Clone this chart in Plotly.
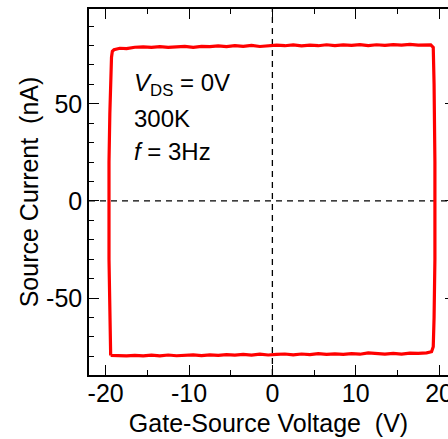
import plotly.graph_objects as go

# Loop trace (V, nA): left edge up, top edge right, right edge down, bottom edge left
left_v = [-19.4, -19.5, -19.6, -19.6, -19.6, -19.5, -19.4, -19.3, -19.2]
left_i = [-79.5, -60.0, -30.0, 0.0, 20.0, 45.0, 65.0, 74.0, 77.0]

top_v = [-19.0, -18.3, -17.5, -16.5, -15.5, -14.5, -13.5, -12.5, -11.5, -10.5, -9.5, -8.5,
         -7.5, -6.5, -5.5, -4.5, -3.5, -2.5, -1.5, -0.5, 0.5, 1.5, 2.5, 3.5, 4.5, 5.5,
         6.5, 7.5, 8.5, 9.5, 10.5, 11.5, 12.5, 13.5, 14.5, 15.5, 16.5, 17.5, 18.5, 19.0]
top_i = [77.8, 78.6, 78.4, 79.1, 79.3, 79.0, 79.4, 79.0, 79.3, 79.6, 79.1, 79.6,
         79.4, 79.8, 79.4, 79.9, 79.6, 80.1, 79.5, 79.8, 80.2, 79.9, 80.3, 79.8, 80.2, 79.9,
         80.4, 80.0, 80.3, 80.1, 80.5, 80.0, 80.4, 80.1, 80.5, 80.2, 80.6, 80.2, 80.5, 80.3]

right_v = [19.3, 19.4, 19.5, 19.5, 19.5, 19.4, 19.3, 19.1]
right_i = [79.0, 60.0, 20.0, 0.0, -30.0, -60.0, -75.0, -77.6]

bottom_v = [18.5, 17.5, 16.5, 15.5, 14.5, 13.5, 12.5, 11.5, 10.5, 9.5, 8.5, 7.5, 6.5,
            5.5, 4.5, 3.5, 2.5, 1.5, 0.5, -0.5, -1.5, -2.5, -3.5, -4.5, -5.5, -6.5,
            -7.5, -8.5, -9.5, -10.5, -11.5, -12.5, -13.5, -14.5, -15.5, -16.5, -17.5, -18.5, -19.2]
bottom_i = [-78.2, -78.5, -78.3, -78.8, -78.5, -78.9, -78.6, -78.2, -78.9, -78.6, -79.0, -78.7, -79.0,
            -78.6, -79.1, -78.8, -79.2, -78.8, -79.0, -79.3, -78.9, -79.4, -79.0, -79.4, -79.1, -79.5,
            -79.2, -79.6, -79.2, -79.5, -79.7, -79.3, -79.7, -79.4, -79.8, -79.5, -79.8, -79.6, -79.8]

volts = left_v + top_v + right_v + bottom_v + [left_v[0]]
current = left_i + top_i + right_i + bottom_i + [left_i[0]]

x_tickvals = [-20, -10, 0, 10, 20]
x_ticktext = ["-20", "-10", "0", "10", "20"]
y_tickvals = [-50, 0, 50]
y_ticktext = ["-50", "0", "50"]

x_range = [-22.0, 21.07]
y_range = [-89.6, 98.8]
zero_ref = 0

FONT = "Liberation Sans, Arial, sans-serif"

fig = go.Figure()
fig.add_trace(go.Scatter(x=volts, y=current, mode="lines",
                         line=dict(color="#ff0000", width=3.2), showlegend=False,
                         hoverinfo="skip"))
fig.add_trace(go.Scatter(x=[None], y=[None], yaxis="y2", showlegend=False, hoverinfo="skip"))

fig.add_shape(type="line", xref="x", yref="paper", x0=zero_ref, x1=zero_ref, y0=0, y1=1,
              line=dict(color="black", width=1.3, dash="6px,5px"), layer="below")
fig.add_shape(type="line", xref="paper", yref="y", x0=0, x1=1, y0=zero_ref, y1=zero_ref,
              line=dict(color="black", width=1.3, dash="6px,5px"), layer="below")

ann_font = dict(family=FONT, size=24, color="black")
fig.add_annotation(x=-16.9, y=60, xref="x", yref="y", text="<i>V</i><sub>DS</sub> = 0V",
                   showarrow=False, xanchor="left", yanchor="middle", font=ann_font)
fig.add_annotation(x=-16.9, y=42.5, xref="x", yref="y", text="300K",
                   showarrow=False, xanchor="left", yanchor="middle", font=ann_font)
fig.add_annotation(x=-16.9, y=25.5, xref="x", yref="y", text="<i>f</i> = 3Hz",
                   showarrow=False, xanchor="left", yanchor="middle", font=ann_font)

fig.update_layout(
    width=448, height=439,
    margin=dict(l=89, r=0, t=9, b=64),
    paper_bgcolor="white", plot_bgcolor="white",
    template="none",
    font=dict(family=FONT, size=25, color="black"),
    xaxis=dict(range=x_range, showgrid=False, zeroline=False,
               showline=True, linecolor="black", linewidth=1.5, mirror="ticks",
               ticks="inside", ticklen=10, tickwidth=1.3, tickcolor="black",
               tickmode="array", tickvals=x_tickvals, ticktext=x_ticktext,
               ticklabeloverflow="allow", ticklabelstandoff=-5,
               minor=dict(ticks="inside", ticklen=5, tickwidth=1.3, tickcolor="black", dtick=5, tick0=0, showgrid=False),
               tickfont=dict(family=FONT, size=25),
               title=dict(text="Gate-Source Voltage\u00a0\u00a0(V)", font=dict(family=FONT, size=25), standoff=9),
               automargin=False),
    yaxis=dict(range=y_range, showgrid=False, zeroline=False,
               showline=True, linecolor="black", linewidth=1.5,
               ticks="inside", ticklen=10, tickwidth=1.3, tickcolor="black",
               tickmode="array", tickvals=y_tickvals, ticktext=y_ticktext,
               minor=dict(ticks="inside", ticklen=5, tickwidth=1.3, tickcolor="black", dtick=10, tick0=0, showgrid=False),
               tickfont=dict(family=FONT, size=25),
               title=dict(text="Source Current\u00a0\u00a0(nA)", font=dict(family=FONT, size=25), standoff=0),
               automargin=False),
    yaxis2=dict(range=y_range, overlaying="y", side="right", anchor="x",
                showgrid=False, zeroline=False, showline=False, showticklabels=False,
                ticks="inside", ticklen=3, tickwidth=1.3, tickcolor="black",
                tickmode="array", tickvals=y_tickvals),
)

fig.write_html("out.html", config={"displayModeBar": False},
               post_script="document.body.style.margin='0';document.body.style.overflow='hidden';")
